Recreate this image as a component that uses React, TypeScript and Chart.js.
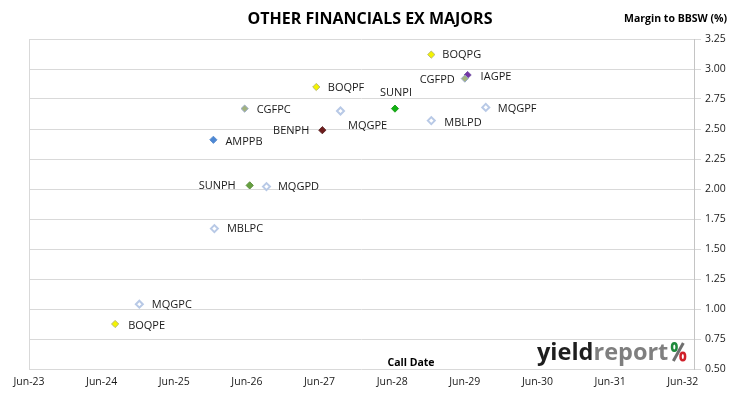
import React, { useEffect, useRef } from "react";
import { Chart, registerables } from "chart.js";

Chart.register(...registerables);

// ---- Data ----
const securities = [
  "BOQPG", "IAGPE", "CGFPD", "MQGPF", "MBLPD", "SUNPI", "MQGPE", "BOQPF",
  "BENPH", "CGFPC", "AMPPB", "SUNPH", "MQGPD", "MBLPC", "MQGPC", "BOQPE",
];
const callDates = [
  "2028-12-15", "2029-06-15", "2029-06-01", "2029-09-15", "2028-12-15", "2028-06-15", "2027-09-15", "2027-05-15",
  "2027-06-15", "2026-05-20", "2025-12-15", "2026-06-15", "2026-09-08", "2025-12-20", "2024-12-08", "2024-08-08",
];
const margins = [
  3.12, 2.95, 2.92, 2.68, 2.57, 2.67, 2.65, 2.85,
  2.49, 2.67, 2.41, 2.03, 2.02, 1.67, 1.04, 0.875,
];
const xTickLabels = ["Jun-23", "Jun-24", "Jun-25", "Jun-26", "Jun-27", "Jun-28", "Jun-29", "Jun-30", "Jun-31", "Jun-32"];
const xTickDates = ["2023-06-01", "2024-06-01", "2025-06-01", "2026-06-01", "2027-06-01", "2028-06-01", "2029-06-01", "2030-06-01", "2031-06-01", "2032-06-01"];
const yMin = 0.5;
const yMax = 3.25;
const yStep = 0.25;

// ---- Styles ----
type MarkerStyle = { fill: string; border: string; hollow?: boolean };
const markerStyles: Record<string, MarkerStyle> = {
  BOQPG: { fill: "#f4f400", border: "#b9b96e" },
  BOQPF: { fill: "#f4f400", border: "#b9b96e" },
  BOQPE: { fill: "#f4f400", border: "#b9b96e" },
  IAGPE: { fill: "#7434a4", border: "#7a5aa8" },
  CGFPD: { fill: "#a2b27e", border: "#9aaac8" },
  CGFPC: { fill: "#a2b27e", border: "#9aaac8" },
  MQGPF: { fill: "#ffffff", border: "#b8c9e6", hollow: true },
  MQGPE: { fill: "#ffffff", border: "#b8c9e6", hollow: true },
  MQGPD: { fill: "#ffffff", border: "#b8c9e6", hollow: true },
  MQGPC: { fill: "#ffffff", border: "#b8c9e6", hollow: true },
  MBLPD: { fill: "#ffffff", border: "#b8c9e6", hollow: true },
  MBLPC: { fill: "#ffffff", border: "#b8c9e6", hollow: true },
  SUNPI: { fill: "#12b212", border: "#22a022" },
  SUNPH: { fill: "#66a040", border: "#5c8e3c" },
  BENPH: { fill: "#6e1c1c", border: "#5e2828" },
  AMPPB: { fill: "#4c88d4", border: "#6090d0" },
};

// label placement relative to marker: dx, dy, align
const labelPlacement: Record<string, [number, number, CanvasTextAlign]> = {
  BOQPG: [11, 0, "left"],
  IAGPE: [13, 2, "left"],
  CGFPD: [-10, 1.5, "right"],
  MQGPF: [12, 1.5, "left"],
  MBLPD: [13, 2.5, "left"],
  SUNPI: [1, -16, "center"],
  MQGPE: [7.5, 14.5, "left"],
  BOQPF: [11.5, 0.5, "left"],
  BENPH: [-13, 0.7, "right"],
  CGFPC: [12, 1, "left"],
  AMPPB: [12, 2, "left"],
  SUNPH: [-14, 0.7, "right"],
  MQGPD: [11.5, 0.5, "left"],
  MBLPC: [12.5, 0.7, "left"],
  MQGPC: [12.5, 1, "left"],
  BOQPE: [13, 1.4, "left"],
};

const toYear = (iso: string) => {
  const [y, m, d] = iso.split("-").map(Number);
  return y + (m - 1) / 12 + (d - 1) / 365;
};

const FONT = "'Open Sans', 'DejaVu Sans', sans-serif";

const overlayPlugin = {
  id: "overlay",
  beforeDatasetsDraw(chart: any) {
    const { ctx, chartArea } = chart;
    ctx.save();
    ctx.strokeStyle = "#d9d9d9";
    ctx.lineWidth = 1;
    ctx.beginPath();
    const lx = Math.round(chartArea.left) + 0.5;
    ctx.moveTo(lx, chartArea.top);
    ctx.lineTo(lx, chartArea.bottom);
    ctx.stroke();
    ctx.restore();
  },
  afterDraw(chart: any) {
    const { ctx, chartArea } = chart;
    ctx.save();
    // Title
    ctx.fillStyle = "#000000";
    ctx.font = `bold 16px ${FONT}`;
    ctx.textAlign = "center";
    ctx.textBaseline = "middle";
    ctx.fillText("OTHER FINANCIALS EX MAJORS", 370, 19);
    // Y-axis title
    ctx.font = `bold 10.5px ${FONT}`;
    ctx.textAlign = "right";
    ctx.fillText("Margin to BBSW (%)", 727, 19);
    // X-axis title
    ctx.textAlign = "center";
    ctx.fillText("Call Date", 411, 363);

    // point labels
    const meta = chart.getDatasetMeta(0);
    ctx.font = `11px ${FONT}`;
    ctx.fillStyle = "#1a1a1a";
    ctx.textBaseline = "middle";
    meta.data.forEach((el: any, i: number) => {
      const name = securities[i];
      const [dx, dy, align] = labelPlacement[name];
      ctx.textAlign = align;
      ctx.fillText(name, el.x + dx, el.y + dy);
    });

    // Logo
    const lx = chartArea.right - 157;
    const ly = chartArea.bottom - 9;
    ctx.textAlign = "left";
    ctx.textBaseline = "alphabetic";
    ctx.font = `bold 23.5px ${FONT}`;
    ctx.fillStyle = "#1e1e1e";
    ctx.fillText("yield", lx, ly);
    const w1 = ctx.measureText("yield").width;
    ctx.fillStyle = "#7f7f7f";
    ctx.fillText("report", lx + w1, ly);
    const w2 = ctx.measureText("report").width;
    const px = lx + w1 + w2 + 3;
    // percent sign
    ctx.strokeStyle = "#6f6f6f";
    ctx.lineWidth = 3;
    ctx.beginPath();
    ctx.moveTo(px + 2, ly + 1);
    ctx.lineTo(px + 12, ly - 17);
    ctx.stroke();
    ctx.lineWidth = 2.5;
    ctx.strokeStyle = "#1f8a3c";
    ctx.beginPath();
    ctx.ellipse(px + 3, ly - 13, 2.3, 3.8, 0, 0, Math.PI * 2);
    ctx.stroke();
    ctx.strokeStyle = "#d0202a";
    ctx.beginPath();
    ctx.ellipse(px + 11.5, ly - 3.5, 2.3, 3.8, 0, 0, Math.PI * 2);
    ctx.stroke();
    ctx.restore();
  },
};

export default function App() {
  const canvasRef = useRef<HTMLCanvasElement | null>(null);

  useEffect(() => {
    document.body.style.margin = "0";
    const canvas = canvasRef.current;
    if (!canvas) return;

    const xMin = toYear(xTickDates[0]);
    const xMax = xMin + 9.155;
    const points = securities.map((_, i) => ({ x: toYear(callDates[i]), y: margins[i] }));

    const chart = new Chart(canvas, {
      type: "scatter",
      data: {
        datasets: [
          {
            data: points,
            pointStyle: "rectRot",
            pointRadius: securities.map((s) => (markerStyles[s].hollow ? 3.5 : 3.6)),
            pointBorderWidth: securities.map((s) => (markerStyles[s].hollow ? 2 : 1)),
            pointBackgroundColor: securities.map((s) => markerStyles[s].fill),
            pointBorderColor: securities.map((s) => markerStyles[s].border),
          },
        ],
      },
      options: {
        responsive: false,
        animation: false,
        layout: { padding: { left: 29, top: 39, right: 0, bottom: 0 } },
        plugins: {
          legend: { display: false },
          tooltip: { enabled: false },
          title: { display: false },
        },
        scales: {
          x: {
            type: "linear",
            min: xMin,
            max: xMax,
            grid: { display: false, drawTicks: false },
            border: { display: false },
            afterFit: (scale: any) => {
              scale.height = 30;
            },
            afterBuildTicks: (scale: any) => {
              scale.ticks = xTickDates.map((d) => ({ value: toYear(d) }));
            },
            ticks: {
              autoSkip: false,
              maxRotation: 0,
              padding: 7,
              color: "#1a1a1a",
              font: { family: FONT, size: 10.5 },
              callback: (_v: any, i: number) => xTickLabels[i],
            },
          },
          y: {
            position: "right",
            min: yMin,
            max: yMax,
            grid: { color: "#d9d9d9", drawTicks: true, tickLength: 7, tickColor: "#d9d9d9" },
            border: { display: true, color: "#c4c4c4" },
            afterFit: (scale: any) => {
              scale.width = 36;
            },
            ticks: {
              stepSize: yStep,
              padding: 4,
              color: "#1a1a1a",
              font: { family: FONT, size: 10.5 },
              callback: (v: any) => Number(v).toFixed(2),
            },
          },
        },
      },
      plugins: [overlayPlugin],
    });

    return () => chart.destroy();
  }, []);

  return (
    <div style={{ width: 730, height: 399, background: "#ffffff" }}>
      <canvas ref={canvasRef} width={730} height={399} style={{ display: "block" }} />
    </div>
  );
}
